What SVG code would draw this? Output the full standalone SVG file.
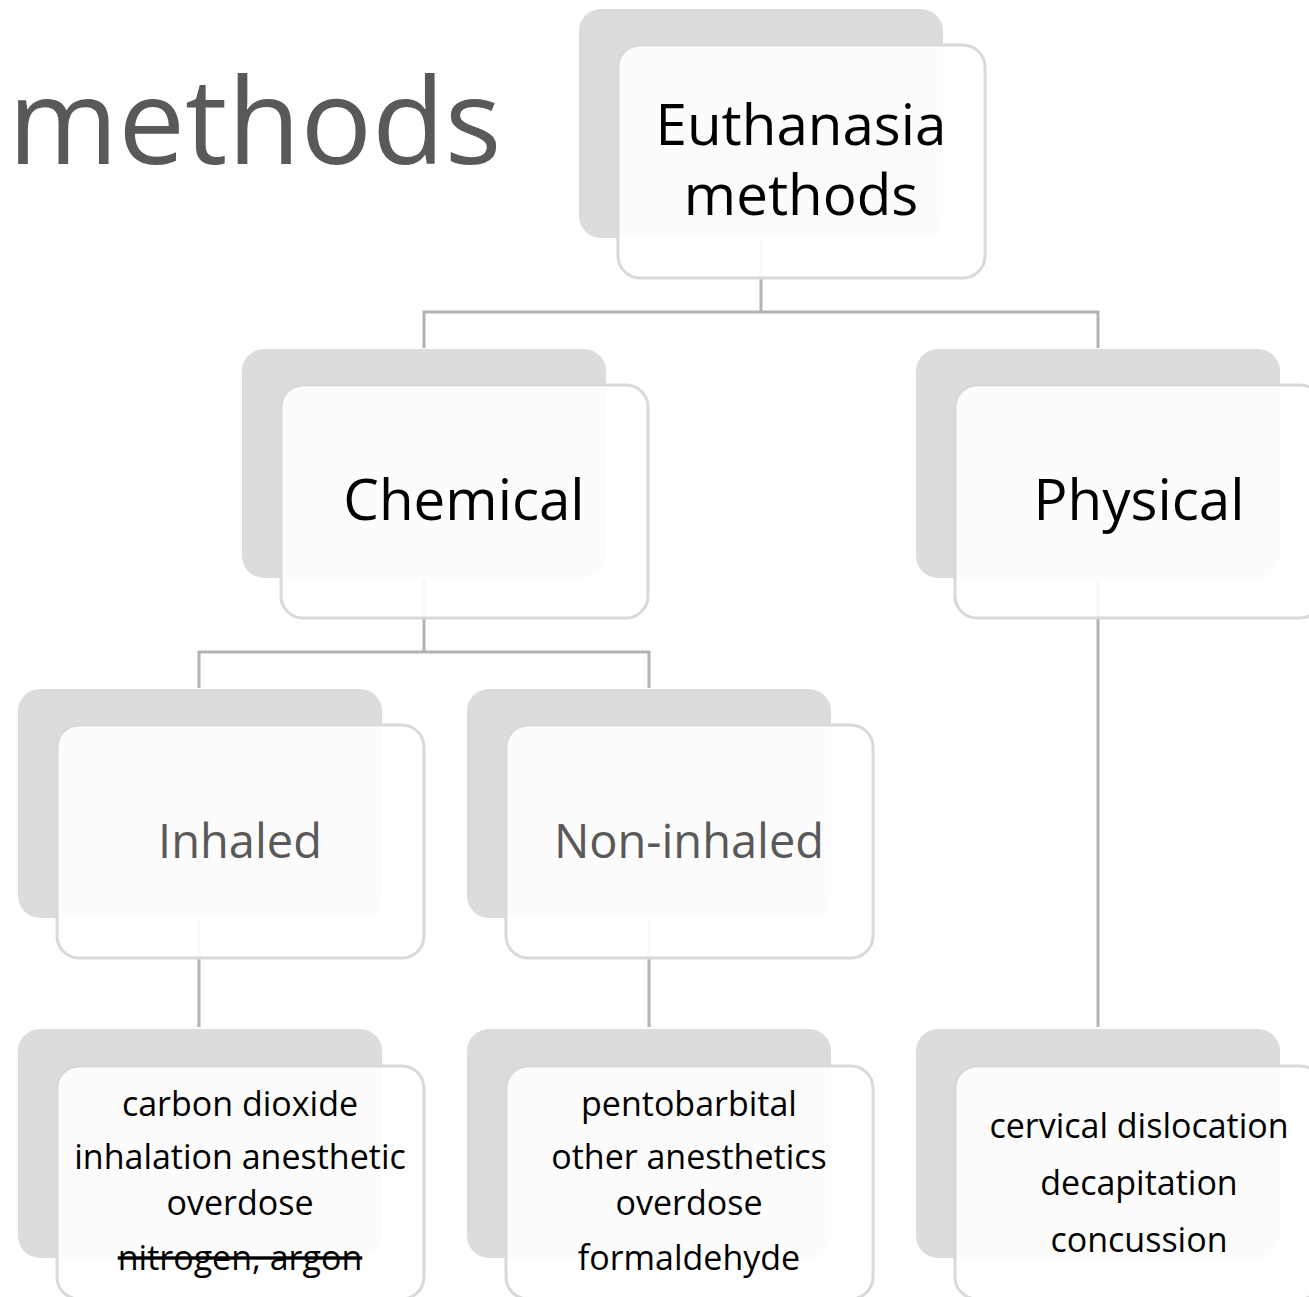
<svg xmlns="http://www.w3.org/2000/svg" width="1309" height="1297" viewBox="0 0 1309 1297">
<style>
.back{fill:#dcdcdc}
.front{fill:#ffffff;fill-opacity:0.9;stroke:#d9d9d9;stroke-width:3}
.conn{fill:none;stroke:#b3b3b3;stroke-width:3}
text{font-family:"Open Sans","Noto Sans","DejaVu Sans",sans-serif;text-anchor:middle}
.t1{font-size:56.5px;fill:#000}
.t2{font-size:47px;fill:#595959}
.t3{font-size:34px;fill:#000}
</style>
<rect width="1309" height="1297" fill="#ffffff"/>
<text x="8" y="164" style="text-anchor:start;font-size:119px;fill:#595959">methods</text>
<g id="backs">
<rect class="back" x="579" y="9" width="364" height="229" rx="22"/>
<rect class="back" x="242" y="349" width="364" height="229" rx="22"/>
<rect class="back" x="916" y="349" width="364" height="229" rx="22"/>
<rect class="back" x="18" y="689" width="364" height="229" rx="22"/>
<rect class="back" x="467" y="689" width="364" height="229" rx="22"/>
<rect class="back" x="18" y="1029" width="364" height="229" rx="22"/>
<rect class="back" x="467" y="1029" width="364" height="229" rx="22"/>
<rect class="back" x="916" y="1029" width="364" height="229" rx="22"/>
</g>
<g id="connectors">
<path class="conn" d="M761,240 V312 M424,348 V312 H1098 V348"/>
<path class="conn" d="M424,580 V652 M199,688 V652 H649 V688"/>
<path class="conn" d="M1098,580 V1027"/>
<path class="conn" d="M199,920 V1027"/>
<path class="conn" d="M649,920 V1027"/>
</g>
<g id="root">
<rect class="front" x="618" y="45" width="367" height="233" rx="22"/>
<text class="t1" x="801" y="145"><tspan x="801" y="145">Euthanasia</tspan><tspan x="801" y="215">methods</tspan></text>
</g>
<g id="chemical">
<rect class="front" x="281" y="385" width="367" height="233" rx="22"/>
<text class="t1" x="464" y="520">Chemical</text>
</g>
<g id="physical">
<rect class="front" x="955" y="385" width="367" height="233" rx="22"/>
<text class="t1" x="1139" y="520">Physical</text>
</g>
<g id="inhaled">
<rect class="front" x="57" y="725" width="367" height="233" rx="22"/>
<text class="t2" x="240" y="858">Inhaled</text>
</g>
<g id="noninhaled">
<rect class="front" x="506" y="725" width="367" height="233" rx="22"/>
<text class="t2" x="689" y="858">Non-inhaled</text>
</g>
<g id="inhaled-list">
<rect class="front" x="57" y="1066" width="367" height="233" rx="22"/>
<text class="t3" x="240" y="1116">carbon dioxide</text>
<text class="t3" x="240" y="1169">inhalation anesthetic</text>
<text class="t3" x="240" y="1215">overdose</text>
<text class="t3" x="240" y="1270" text-decoration="line-through">nitrogen, argon</text>
</g>
<g id="noninhaled-list">
<rect class="front" x="506" y="1066" width="367" height="233" rx="22"/>
<text class="t3" x="689" y="1116">pentobarbital</text>
<text class="t3" x="689" y="1169">other anesthetics</text>
<text class="t3" x="689" y="1215">overdose</text>
<text class="t3" x="689" y="1270">formaldehyde</text>
</g>
<g id="physical-list">
<rect class="front" x="955" y="1066" width="367" height="233" rx="22"/>
<text class="t3" x="1139" y="1138">cervical dislocation</text>
<text class="t3" x="1139" y="1195">decapitation</text>
<text class="t3" x="1139" y="1252">concussion</text>
</g>
</svg>
